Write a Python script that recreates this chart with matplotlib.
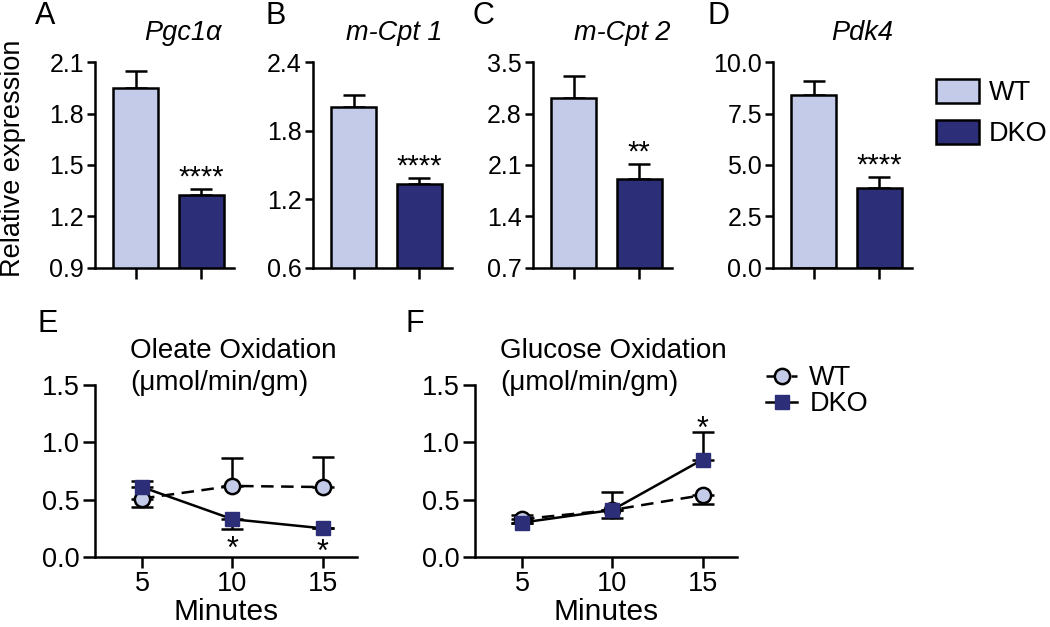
import matplotlib
matplotlib.use("Agg")
import matplotlib.pyplot as plt
from matplotlib.patches import Patch
from matplotlib.lines import Line2D
import numpy as np

plt.rcParams['font.family'] = ['Liberation Sans', 'DejaVu Sans']

W, H = 1050, 627
WT_COLOR = '#c3cbe9'
DKO_COLOR = '#2d2e78'

# ---- Bar panel data ----
genes = ['Pgc1α', 'm-Cpt 1', 'm-Cpt 2', 'Pdk4']
letters_top = ['A', 'B', 'C', 'D']
wt_means = [1.95, 2.01, 3.01, 8.38]
wt_sem = [0.095, 0.10, 0.30, 0.69]
dko_means = [1.325, 1.33, 1.905, 3.89]
dko_sem = [0.035, 0.055, 0.21, 0.55]
stars = ['****', '****', '**', '****']
yticks_bar = [[0.9, 1.2, 1.5, 1.8, 2.1],
              [0.6, 1.2, 1.8, 2.4],
              [0.7, 1.4, 2.1, 2.8, 3.5],
              [0.0, 2.5, 5.0, 7.5, 10.0]]

# ---- Line panel data ----
minutes = [5, 10, 15]
ole_wt = [0.51, 0.62, 0.61]
ole_wt_lo = [0.07, 0.0, 0.0]
ole_wt_hi = [0.0, 0.24, 0.26]
ole_dko = [0.61, 0.33, 0.25]
ole_dko_lo = [0.0, 0.09, 0.0]
ole_dko_hi = [0.05, 0.0, 0.0]
glu_wt = [0.33, 0.41, 0.54]
glu_wt_lo = [0.0, 0.07, 0.08]
glu_wt_hi = [0.04, 0.0, 0.0]
glu_dko = [0.30, 0.41, 0.85]
glu_dko_lo = [0.0, 0.0, 0.0]
glu_dko_hi = [0.0, 0.16, 0.24]

fig = plt.figure(figsize=(W / 100, H / 100), dpi=100)


def rect(x0, ytop, x1, ybot):
    return [x0 / W, 1 - ybot / H, (x1 - x0) / W, (ybot - ytop) / H]


def style(ax, xfs=19, yfs=18, ylen=6):
    for s in ['top', 'right']:
        ax.spines[s].set_visible(False)
    for s in ['left', 'bottom']:
        ax.spines[s].set_linewidth(1.8)
    ax.tick_params(axis='both', width=1.8, direction='out', pad=2)
    ax.tick_params(axis='y', labelsize=yfs, length=ylen)
    ax.tick_params(axis='x', labelsize=xfs, length=8)


bar_x0 = [95, 313, 533, 773]
letter_x = [35, 266, 473, 708]
title_dx = [18, 12, 20, 20]
for i in range(4):
    x0 = bar_x0[i]
    ax = fig.add_axes(rect(x0, 62, x0 + 139, 268))
    ax.bar([0, 1], [wt_means[i], dko_means[i]], width=0.68,
           color=[WT_COLOR, DKO_COLOR], edgecolor='black', linewidth=1.8, zorder=2)
    ax.errorbar([0, 1], [wt_means[i], dko_means[i]],
                yerr=[[0, 0], [wt_sem[i], dko_sem[i]]], fmt='none', ecolor='black',
                elinewidth=1.8, capsize=8, capthick=1.8, zorder=1)
    yt = yticks_bar[i]
    ax.set_ylim(yt[0], yt[-1])
    ax.set_yticks(yt)
    ax.set_yticklabels(['%.1f' % v for v in yt])
    ax.set_xlim(-0.62, 1.5)
    ax.set_xticks([0, 1])
    ax.set_xticklabels(['', ''])
    style(ax)
    ax.annotate(stars[i], (1, dko_means[i] + dko_sem[i]), xytext=(0, -2),
                textcoords='offset points', ha='center', va='bottom', fontsize=21)
    ax.text(0.5 + title_dx[i] / 139, 1 + 29 / 206, genes[i], transform=ax.transAxes,
            fontsize=19.5, style='italic', ha='center', va='center')
    fig.text(letter_x[i] / W, 1 - 16 / H, letters_top[i], fontsize=22, va='center', ha='left')
    if i == 0:
        ax.set_ylabel('Relative expression', fontsize=19.5)
        ax.yaxis.set_label_coords((26 - 95) / 139, (268 - 158) / 206)

# bar legend
fig.legend(handles=[Patch(facecolor=WT_COLOR, edgecolor='black', linewidth=1.8, label='WT'),
                    Patch(facecolor=DKO_COLOR, edgecolor='black', linewidth=1.8, label='DKO')],
           loc='upper left', bbox_to_anchor=(936 / W, 1 - 79 / H), frameon=False,
           fontsize=19.5, handlelength=1.6, handleheight=1.0, handletextpad=0.35,
           labelspacing=0.5, borderaxespad=0, borderpad=0)

# line panels
line_specs = [
    (95, 'E', 37, 35, 'Oleate Oxidation\n(μmol/min/gm)',
     ole_wt, ole_wt_lo, ole_wt_hi, ole_dko, ole_dko_lo, ole_dko_hi),
    (475, 'F', 405, 25, 'Glucose Oxidation\n(μmol/min/gm)',
     glu_wt, glu_wt_lo, glu_wt_hi, glu_dko, glu_dko_lo, glu_dko_hi),
]
for j, (x0, letter, lx, tdx, title, wt, wlo, whi, dko, dlo, dhi) in enumerate(line_specs):
    ax = fig.add_axes(rect(x0, 385, x0 + 262, 557))
    ax.errorbar(minutes, wt, yerr=[wlo, whi], fmt='none', ecolor='black',
                elinewidth=1.8, capsize=8, capthick=1.8, zorder=2)
    ax.errorbar(minutes, dko, yerr=[dlo, dhi], fmt='none', ecolor='black',
                elinewidth=1.8, capsize=8, capthick=1.8, zorder=2)
    ax.plot(minutes, wt, linestyle=(0, (5, 3)), color='black', linewidth=1.8,
            marker='o', markersize=11, markerfacecolor=WT_COLOR,
            markeredgecolor='black', markeredgewidth=1.8, zorder=3)
    ax.plot(minutes, dko, linestyle='-', color='black', linewidth=1.8,
            marker='s', markersize=9.5, markerfacecolor=DKO_COLOR,
            markeredgecolor=DKO_COLOR, markeredgewidth=1, zorder=4)
    ax.set_xlim(2.4, 16.9)
    ax.set_ylim(0, 1.5)
    ax.set_xticks(minutes)
    ax.set_yticks([0, 0.5, 1.0, 1.5])
    ax.set_yticklabels(['0.0', '0.5', '1.0', '1.5'])
    style(ax, xfs=19.5, yfs=19.5, ylen=9)
    ax.set_xlabel('Minutes', fontsize=21.5, labelpad=1)
    ax.text(tdx / 262, 1 + 18.5 / 172, title, transform=ax.transAxes,
            fontsize=20, ha='left', va='center', linespacing=1.3)
    fig.text(lx / W, 1 - 324 / H, letter, fontsize=22, va='center', ha='left')
    if j == 0:
        for k, off in [(1, -4), (2, -7)]:
            ax.annotate('*', (minutes[k], dko[k] - dlo[k]), xytext=(0, off),
                        textcoords='offset points', ha='center', va='top', fontsize=22)
    else:
        ax.annotate('*', (minutes[2], dko[2] + dhi[2]), xytext=(0, -9),
                    textcoords='offset points', ha='center', va='bottom', fontsize=22)

fig.legend(handles=[Line2D([], [], linestyle=(0, (3, 2)), color='black', linewidth=1.8,
                           marker='o', markersize=11, markerfacecolor=WT_COLOR,
                           markeredgecolor='black', markeredgewidth=1.8, label='WT'),
                    Line2D([], [], linestyle='-', color='black', linewidth=1.8,
                           marker='s', markersize=9.5, markerfacecolor=DKO_COLOR,
                           markeredgecolor=DKO_COLOR, label='DKO')],
           loc='upper left', bbox_to_anchor=(766 / W, 1 - 365 / H), frameon=False,
           fontsize=19.5, handlelength=1.15, handletextpad=0.45, labelspacing=0.0,
           borderaxespad=0, borderpad=0)

fig.savefig('out.png', dpi=100)
